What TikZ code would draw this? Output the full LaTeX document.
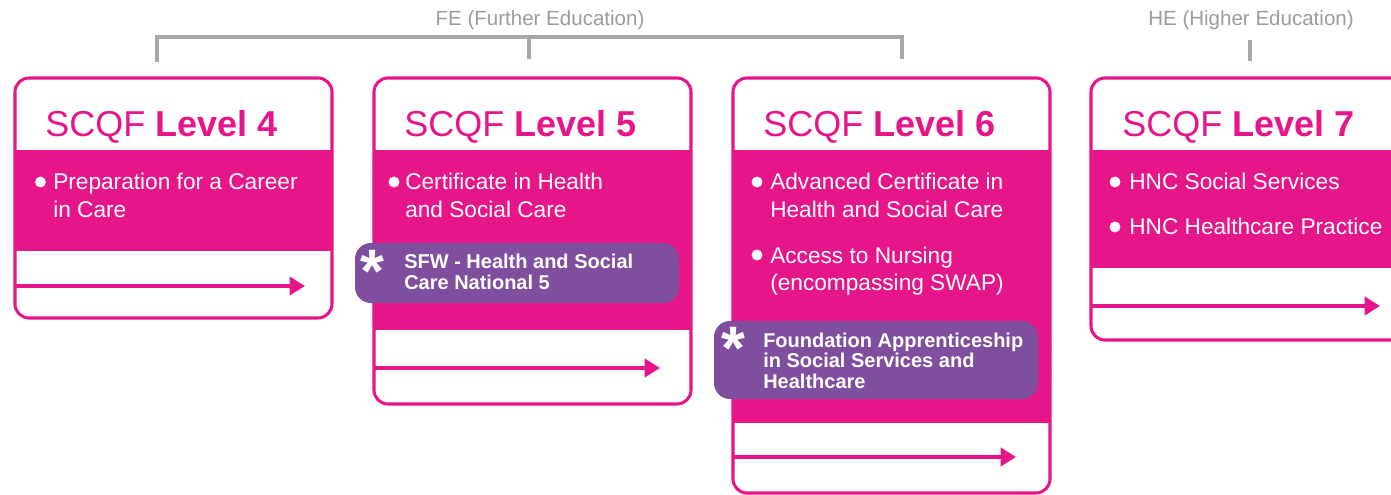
\documentclass[tikz,border=0pt]{standalone}
\usepackage{fontspec}
\setmainfont{Liberation Sans}
\usetikzlibrary{arrows.meta}
\definecolor{pk}{HTML}{E6168A}
\definecolor{pu}{HTML}{7F4E9E}
\definecolor{gr}{HTML}{A8A8A8}
\definecolor{grt}{HTML}{9C9C9C}
\begin{document}
\begin{tikzpicture}[x=0.75pt,y=-0.75pt,
  frame/.style={draw=pk,line width=2.3pt,rounded corners=10.5pt},
  band/.style={fill=pk},
  arrowline/.style={draw=pk,line width=3.4pt,-{Triangle[length=11.5pt,width=13.5pt]}},
  pbox/.style={fill=pu,rounded corners=12pt},
  bracket/.style={draw=gr,line width=2.4pt},
  glabel/.style={inner sep=0pt,anchor=base,text=grt,font=\fontsize{15.4pt}{18pt}\selectfont},
  title/.style={inner sep=0pt,anchor=base west,text=pk,font=\fontsize{27pt}{32pt}\selectfont},
  btext/.style={inner sep=0pt,anchor=base west,text=white,font=\fontsize{17pt}{21pt}\selectfont},
  ptext/.style={inner sep=0pt,anchor=base west,text=white,font=\bfseries\fontsize{15pt}{16pt}\selectfont},
  star/.style={inner sep=0pt,anchor=base west,text=white,font=\bfseries\fontsize{46pt}{50pt}\selectfont},
  dot/.style={fill=white}
]
\clip (0,0) rectangle (1391,495);

% ---------- labels and brackets ----------
\node[glabel] (fe) at (540,26) {FE (Further Education)};
\node[glabel] (he) at (1251,26) {HE (Higher Education)};
\coordinate (feL) at (157,62);
\coordinate (feM) at (529,59);
\coordinate (feR) at (902,59);
\coordinate (feMt) at (529,37);
\coordinate (heT) at (1250,40);
\coordinate (heB) at (1250,61);
\draw[bracket] (feL) -- (feL |- feMt) -- (feR |- feMt) -- (feR);
\draw[bracket] (feMt) -- (feM);
\draw[bracket] (heT) -- (heB);

% ---------- Level 4 ----------
\path[fill=white,rounded corners=10.5pt] (15,78) rectangle (332,318);
\fill[band] (15,150) rectangle (332,251);
\draw[frame] (15,78) rectangle (332,318);
\node[title] (t4) at (45,137) {SCQF \textbf{Level 4}};
\fill[dot] (40.5,182) circle (4.1pt);
\node[btext] (l4a) at (53,190) {Preparation for a Career};
\node[btext] (l4b) at (53,218) {in Care};
\coordinate (a4s) at (15,286);
\coordinate (a4e) at (305,286);
\draw[arrowline] (a4s) -- (a4e);

% ---------- Level 5 ----------
\path[fill=white,rounded corners=10.5pt] (374,78) rectangle (691,404);
\fill[band] (374,150) rectangle (691,330);
\draw[frame] (374,78) rectangle (691,404);
\node[title] (t5) at (404,137) {SCQF \textbf{Level 5}};
\fill[dot] (394,182) circle (4.1pt);
\node[btext] (l5a) at (405,190) {Certificate in Health};
\node[btext] (l5b) at (405,218) {and Social Care};
\fill[pbox] (355,243) rectangle (679,303);
\node[star] (s5) at (360,292) {*};
\node[ptext] (p5a) at (404,268) {SFW - Health and Social};
\node[ptext] (p5b) at (404,289) {Care National 5};
\coordinate (a5s) at (374,368);
\coordinate (a5e) at (660,368);
\draw[arrowline] (a5s) -- (a5e);

% ---------- Level 6 ----------
\path[fill=white,rounded corners=10.5pt] (733,78) rectangle (1050,493);
\fill[band] (733,150) rectangle (1050,423);
\draw[frame] (733,78) rectangle (1050,493);
\node[title] (t6) at (763,137) {SCQF \textbf{Level 6}};
\fill[dot] (757,182) circle (4.1pt);
\node[btext] (l6a) at (770,190) {Advanced Certificate in};
\node[btext] (l6b) at (770,218) {Health and Social Care};
\fill[dot] (757,255) circle (4.1pt);
\node[btext] (l6c) at (770,263) {Access to Nursing};
\node[btext] (l6d) at (770,291) {(encompassing SWAP)};
\fill[pbox] (714,321) rectangle (1038,399);
\node[star] (s6) at (721,369) {*};
\node[ptext] (p6a) at (763,347) {Foundation Apprenticeship};
\node[ptext] (p6b) at (763,367) {in Social Services and};
\node[ptext] (p6c) at (763,388) {Healthcare};
\coordinate (a6s) at (733,457);
\coordinate (a6e) at (1016,457);
\draw[arrowline] (a6s) -- (a6e);

% ---------- Level 7 ----------
\path[fill=white,rounded corners=10.5pt] (1091,78) rectangle (1420,340);
\fill[band] (1091,150) rectangle (1420,268);
\draw[frame] (1091,78) rectangle (1420,340);
\node[title] (t7) at (1122,137) {SCQF \textbf{Level 7}};
\fill[dot] (1115,182) circle (4.1pt);
\node[btext] (l7a) at (1129,190) {HNC Social Services};
\fill[dot] (1115,227) circle (4.1pt);
\node[btext] (l7b) at (1129,235) {HNC Healthcare Practice};
\coordinate (a7s) at (1091,306);
\coordinate (a7e) at (1380,306);
\draw[arrowline] (a7s) -- (a7e);
\end{tikzpicture}
\end{document}
